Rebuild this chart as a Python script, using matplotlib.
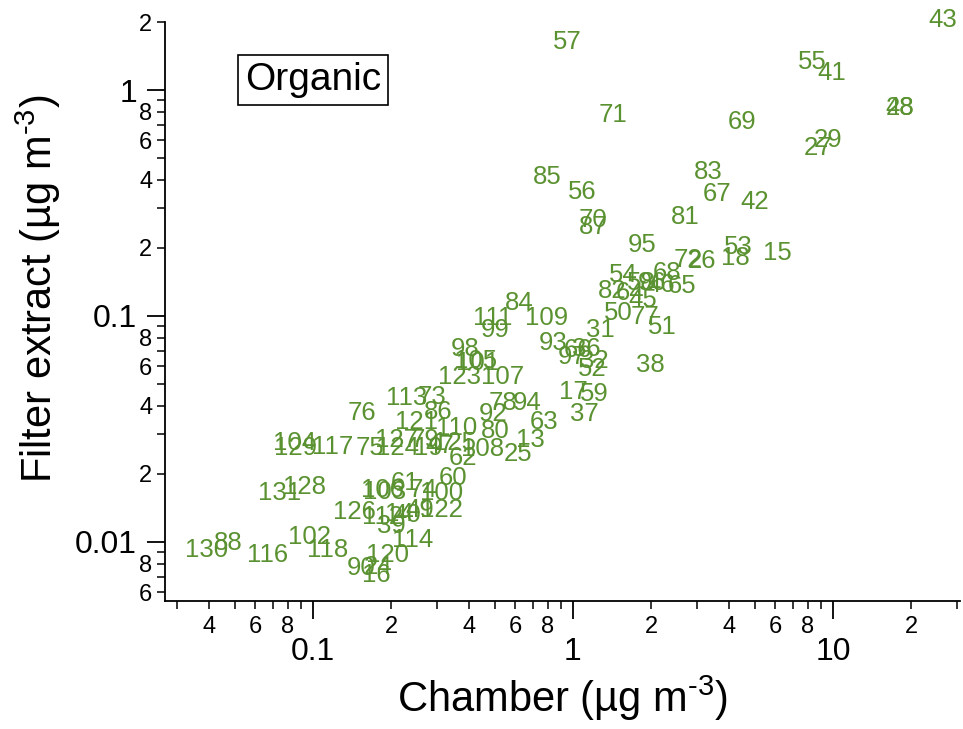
'''
Filter extract vs. chamber concentration for the organic fraction,
each sample drawn as its run number on log-log axes.
'''

import numpy as np
import matplotlib
matplotlib.use('Agg')
import matplotlib.pyplot as plt
from matplotlib.ticker import LogLocator, FuncFormatter

plt.rcParams['font.family'] = ['Liberation Sans', 'DejaVu Sans']
plt.rcParams['mathtext.default'] = 'regular'

# run numbers and their concentrations (ug m-3)
runs = ['43', '57', '55', '41', '28', '48', '71', '69', '29', '27',
        '83', '85', '56', '67', '42', '81', '70', '87', '95', '53',
        '15', '18', '72', '26', '54', '68', '58', '96', '46', '65',
        '82', '64', '45', '50', '77', '51', '31', '84', '111', '109',
        '99', '93', '66', '36', '97', '32', '52', '38', '98', '105',
        '101', '123', '107', '17', '59', '37', '113', '73', '86', '78',
        '94', '92', '63', '76', '121', '110', '80', '13', '25', '108',
        '62', '104', '129', '117', '75', '127', '124', '79', '19', '47',
        '125', '131', '128', '106', '103', '61', '74', '100', '60', '126',
        '112', '14', '40', '49', '122', '39', '114', '130', '88', '116',
        '102', '118', '120', '90', '24', '16']

chamber = [26.5, 0.95, 8.3, 9.9, 18.1, 18.1, 1.43, 4.47, 9.57, 8.75,
           3.31, 0.80, 1.09, 3.58, 5.01, 2.70, 1.19, 1.20, 1.84, 4.31,
           6.09, 4.20, 2.77, 3.13, 1.56, 2.30, 1.84, 2.01, 2.18, 2.63,
           1.41, 1.66, 1.86, 1.50, 1.89, 2.20, 1.27, 0.62, 0.492, 0.794,
           0.501, 0.838, 1.045, 1.13, 0.99, 1.21, 1.19, 1.98, 0.384, 0.424,
           0.431, 0.368, 0.538, 1.0, 1.21, 1.11, 0.230, 0.287, 0.303, 0.538,
           0.665, 0.492, 0.773, 0.154, 0.251, 0.358, 0.501, 0.684, 0.614, 0.451,
           0.378, 0.0853, 0.0859, 0.119, 0.166, 0.209, 0.212, 0.270, 0.277, 0.308,
           0.352, 0.0746, 0.0932, 0.186, 0.188, 0.226, 0.265, 0.313, 0.345, 0.145,
           0.186, 0.216, 0.230, 0.258, 0.313, 0.201, 0.242, 0.0391, 0.0471, 0.0671,
           0.0974, 0.114, 0.193, 0.154, 0.178, 0.175]

filter_extract = [2.04, 1.63, 1.33, 1.19, 0.83, 0.83, 0.775, 0.722, 0.601, 0.554,
                  0.434, 0.412, 0.354, 0.347, 0.319, 0.274, 0.266, 0.248, 0.206, 0.202,
                  0.190, 0.181, 0.177, 0.175, 0.152, 0.155, 0.140, 0.140, 0.137, 0.136,
                  0.129, 0.126, 0.118, 0.103, 0.099, 0.0894, 0.0867, 0.114, 0.098, 0.098,
                  0.0867, 0.076, 0.0707, 0.0715, 0.0659, 0.0632, 0.0582, 0.0607, 0.0715, 0.0632,
                  0.0620, 0.0537, 0.0537, 0.0461, 0.0452, 0.0368, 0.0434, 0.0436, 0.0376, 0.0412,
                  0.0412, 0.0368, 0.0340, 0.0372, 0.0340, 0.0319, 0.0310, 0.0283, 0.0245, 0.0258,
                  0.0235, 0.0274, 0.0261, 0.0263, 0.0261, 0.0283, 0.0261, 0.0283, 0.0261, 0.0266,
                  0.0274, 0.0165, 0.0175, 0.0170, 0.0166, 0.0182, 0.0170, 0.0165, 0.0192, 0.0136,
                  0.0129, 0.0133, 0.0132, 0.0139, 0.0139, 0.0118, 0.0102, 0.00922, 0.0099, 0.00875,
                  0.0105, 0.00922, 0.00875, 0.00767, 0.00775, 0.00714]

label_color = '#5b9231'


def major_fmt(v, pos):
    return f'{v:g}'


def minor_fmt(v, pos):
    # only the even multiples get a digit
    d = int(round(v / 10 ** np.floor(np.log10(v))))
    return str(d) if d in (2, 4, 6, 8) else ''


fig = plt.figure(figsize=(9.63, 7.29), dpi=100)
ax = fig.add_axes([0.1713, 0.1756, 0.8256, 0.7942])

ax.set_xscale('log')
ax.set_yscale('log')
ax.set_xlim(0.0270, 30.8)
ax.set_ylim(0.00548, 2.0)

for lbl, x, y in zip(runs, chamber, filter_extract):
    ax.text(x, y, lbl, ha='center', va='center', color=label_color,
            fontsize=18.5, clip_on=False)

for side in ('top', 'right'):
    ax.spines[side].set_visible(False)
for side in ('left', 'bottom'):
    ax.spines[side].set_linewidth(1.3)

for axis in (ax.xaxis, ax.yaxis):
    axis.set_major_locator(LogLocator(base=10))
    axis.set_minor_locator(LogLocator(base=10, subs=np.arange(2, 10)))
    axis.set_major_formatter(FuncFormatter(major_fmt))
    axis.set_minor_formatter(FuncFormatter(minor_fmt))

ax.tick_params(which='major', direction='out', length=13, width=1.3, labelsize=23)
ax.tick_params(which='minor', direction='out', length=6, width=1.1, labelsize=17)
ax.tick_params(axis='x', which='major', pad=13)
ax.tick_params(axis='x', which='minor', pad=5)
ax.tick_params(axis='y', which='major', pad=7)
ax.tick_params(axis='y', which='minor', pad=3)

ax.set_xlabel('Chamber (µg m$^{\u20103}$)', fontsize=30)
ax.set_ylabel('Filter extract (µg m$^{\u20103}$)', fontsize=30)
ax.xaxis.set_label_coords(0.5, -0.125)
ax.yaxis.set_label_coords(-0.128, 0.54)

ax.text(0.186, 0.900, 'Organic', transform=ax.transAxes, ha='center', va='center',
        fontsize=28,
        bbox=dict(boxstyle='square,pad=0.18', facecolor='white', edgecolor='black',
                  linewidth=1.2))

fig.savefig('out.png', dpi=100)
